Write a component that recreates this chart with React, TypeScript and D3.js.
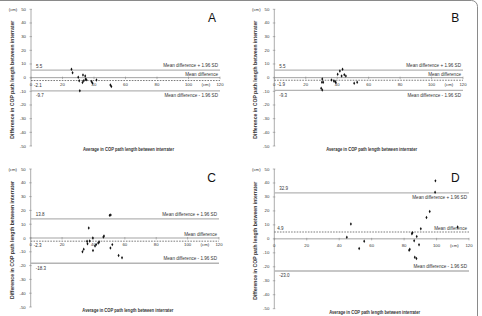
import React from 'react';
import * as d3 from 'd3';

// Bland-Altman panels: x = mean of the two raters, y = difference
const panelIds = ['A', 'B', 'C', 'D'];

const meanA = [25.7, 26.4, 30.0, 30.6, 33.0, 34.4, 33.5, 32.7, 34.6, 35.2, 31.0, 38.4, 39.0, 41.6, 50.4, 51.0];
const diffA = [6.1, 3.6, 0.3, -2.2, 2.0, 1.2, -2.2, -3.6, -1.2, -1.6, -9.5, -2.9, -4.0, -1.7, -5.3, -6.5];

const meanB = [30.5, 30.3, 31.1, 29.8, 30.5, 36.4, 37.9, 38.7, 39.1, 40.3, 41.7, 43.4, 42.8, 44.5, 45.5, 50.8, 52.7];
const diffB = [-1.0, -3.4, -3.4, -7.7, -9.0, -1.7, -2.4, -2.9, -3.6, 2.5, 4.9, 6.1, 1.2, 2.2, 1.2, -4.1, -3.4];

const meanC = [50.3, 51.0, 37.0, 39.6, 35.9, 37.6, 36.2, 41.7, 41.0, 39.7, 43.0, 43.6, 46.3, 46.7, 33.8, 33.0, 52.0, 50.8, 56.0, 58.2];
const diffC = [16.4, 16.6, 7.2, 0.0, -2.4, -2.2, -4.1, -4.8, -5.8, -9.0, -3.6, -2.9, 0.7, 1.5, -8.2, -10.0, -4.8, -7.2, -12.6, -14.3];

const meanD = [47.2, 44.7, 52.3, 55.4, 83.1, 83.5, 85.2, 84.8, 86.2, 86.6, 87.6, 87.8, 89.2, 90.3, 93.8, 95.8, 99.1, 99.3, 113.0];
const diffD = [10.7, 1.2, -6.9, -1.7, -8.1, -7.4, 4.3, 3.6, -1.4, -13.1, -14.1, 1.7, -4.3, 7.2, 15.2, 19.5, 33.4, 41.5, 8.5];

// limits of agreement: [mean + 1.96 SD, mean difference, mean - 1.96 SD]
const limitsA = [5.5, -2.1, -9.7];
const limitsB = [5.5, -1.9, -9.3];
const limitsC = [13.8, -2.3, -18.3];
const limitsD = [32.9, 4.9, -23.0];

const xTicks = [0, 20, 40, 60, 80, 100, 120];
const yTicks = [50, 40, 30, 20, 10, 0, -10, -20, -30, -40, -50];

const xTitle = 'Average in COP path length between interrater';
const yTitle = 'Difference in COP path length between interrater';
const limitNames = ['Mean difference + 1.96 SD', 'Mean difference', 'Mean difference - 1.96 SD'];

const allMeans = [meanA, meanB, meanC, meanD];
const allDiffs = [diffA, diffB, diffC, diffD];
const allLimits = [limitsA, limitsB, limitsC, limitsD];

// layout per panel (absolute px in the 482x316 picture)
const layout = [
  { x0: 31, x1: 220, y0: 9.3, y1: 146, upNameBelow: false, lowNameBelow: true, meanValAbove: false },
  { x0: 274.3, x1: 463, y0: 9.3, y1: 146, upNameBelow: false, lowNameBelow: true, meanValAbove: false },
  { x0: 30.7, x1: 219, y0: 169, y1: 307, upNameBelow: false, lowNameBelow: false, meanValAbove: false },
  { x0: 274.3, x1: 469, y0: 169, y1: 308.7, upNameBelow: true, lowNameBelow: false, meanValAbove: true },
];

const FONT = '"Liberation Sans", Arial, sans-serif';
const TXT = '#333';
const LIMIT_GRAY = '#b4b4b4';

const Panel = ({ idx }: { idx: number }) => {
  const L = layout[idx];
  const means = allMeans[idx];
  const diffs = allDiffs[idx];
  const lim = allLimits[idx];
  const x = d3.scaleLinear().domain([0, 120]).range([L.x0, L.x1]);
  const y = d3.scaleLinear().domain([-50, 50]).range([L.y1, L.y0]);
  const diamond = d3.symbol().type(d3.symbolDiamond).size(3.5)();
  const right = x(120) - 2;
  const fmt = (v: number) => v.toFixed(1);

  return (
    <g fontFamily={FONT} fill={TXT}>
      {/* y axis */}
      <line x1={x(0)} x2={x(0)} y1={y(50)} y2={y(-50)} stroke="#888" strokeWidth={0.7} />
      {yTicks.map((t) => (
        <g key={'y' + t}>
          <line x1={x(0) - 1.5} x2={x(0) + 1} y1={y(t)} y2={y(t)} stroke="#888" strokeWidth={0.6} />
          <text x={x(0) - 5} y={y(t) + 1.5} fontSize={4.3} textAnchor="end">{t}</text>
        </g>
      ))}
      <text x={L.x0 - 18} y={y(50) + 1.5} fontSize={4.3} textAnchor="middle">(cm)</text>
      <text
        transform={`translate(${L.x0 - 17},${(y(50) + y(-50)) / 2 + 2}) rotate(-90)`}
        fontSize={4.8}
        fontWeight="bold"
        textAnchor="middle"
        textLength={118}
        lengthAdjust="spacingAndGlyphs"
      >
        {yTitle}
      </text>

      {/* limit lines */}
      <line x1={x(0)} x2={x(120)} y1={y(lim[0])} y2={y(lim[0])} stroke={LIMIT_GRAY} strokeWidth={1.3} />
      <line x1={x(0)} x2={x(120)} y1={y(lim[2])} y2={y(lim[2])} stroke={LIMIT_GRAY} strokeWidth={1.3} />
      {/* zero line = x axis */}
      <line x1={x(0)} x2={x(120)} y1={y(0)} y2={y(0)} stroke="#999" strokeWidth={0.9} />
      {xTicks.map((t) => (
        <g key={'x' + t}>
          <line x1={x(t)} x2={x(t)} y1={y(0) - 1} y2={y(0) + 1.5} stroke="#888" strokeWidth={0.6} />
          <text x={x(t)} y={y(0) + 8} fontSize={4.3} textAnchor="middle">{t}</text>
        </g>
      ))}
      <text x={x(111)} y={y(0) + 8} fontSize={4.3} textAnchor="middle">(cm)</text>
      <line x1={x(0)} x2={x(120)} y1={y(lim[1])} y2={y(lim[1])} stroke="#444" strokeWidth={0.7} strokeDasharray="1.6,1.2" />

      {/* limit values */}
      <text x={x(0) + 5} y={y(lim[0]) - 2.5} fontSize={4.5}>{fmt(lim[0])}</text>
      <text x={x(0) + 3} y={L.meanValAbove ? y(lim[1]) - 2.5 : y(lim[1]) + 6} fontSize={4.5}>{fmt(lim[1])}</text>
      <text x={x(0) + 5} y={y(lim[2]) + 6.5} fontSize={4.5}>{fmt(lim[2])}</text>

      {/* limit names */}
      <text x={right} y={L.upNameBelow ? y(lim[0]) + 6.5 : y(lim[0]) - 3} fontSize={4.6} textAnchor="end">{limitNames[0]}</text>
      <text x={right} y={Math.min(y(0), y(lim[1])) - 2} fontSize={4.6} textAnchor="end">{limitNames[1]}</text>
      <text x={right} y={L.lowNameBelow ? y(lim[2]) + 6.5 : y(lim[2]) - 3} fontSize={4.6} textAnchor="end">{limitNames[2]}</text>

      {/* points */}
      {means.map((m, i) => (
        <path key={i} d={diamond || ''} transform={`translate(${x(m)},${y(diffs[i])})`} fill="#111" />
      ))}

      <text
        x={(L.x0 + L.x1) / 2 + 3}
        y={L.y1 + 5}
        fontSize={4.5}
        fontWeight="bold"
        textAnchor="middle"
        textLength={91}
        lengthAdjust="spacingAndGlyphs"
      >
        {xTitle}
      </text>

      <text x={L.x0 + 181} y={L.y0 + 12.5} fontSize={12} textAnchor="middle" fill="#111">{panelIds[idx]}</text>
    </g>
  );
};

const App = () => {
  return (
    <svg width={482} height={316} style={{ position: 'absolute', left: 0, top: 0, background: '#fff' }}>
      <rect x={0} y={0} width={482} height={316} fill="#fff" />
      <rect x={-6} y={0.5} width={483.5} height={330} rx={6} fill="none" stroke="#8a8a8a" strokeWidth={1} />
      {panelIds.map((id, i) => (
        <Panel key={id} idx={i} />
      ))}
    </svg>
  );
};

export default App;
